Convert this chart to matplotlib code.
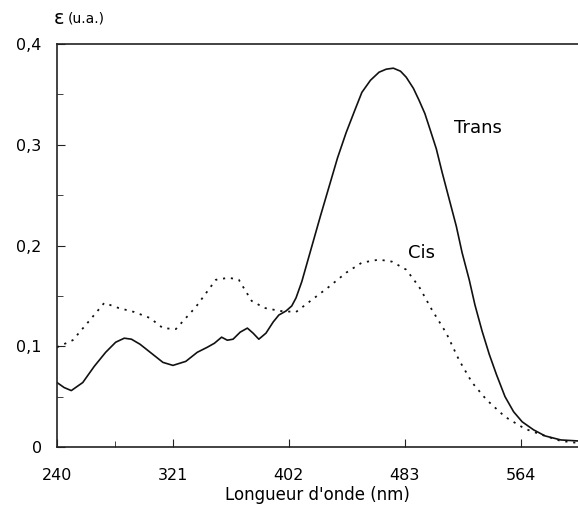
import numpy as np
import matplotlib.pyplot as plt
from matplotlib.ticker import MultipleLocator, FixedLocator

# spectra (wavelength in nm, epsilon in u.a.)
trans_nm = [240, 245, 250, 258, 266, 274, 281, 287, 292, 298, 306, 314, 321, 330,
            338, 345, 350, 355, 359, 363, 368, 373, 377, 381, 386, 391, 395, 400,
            404, 407, 411, 415, 418, 424, 430, 436, 442, 448, 453, 459, 465, 470,
            475, 480, 484, 489, 493, 497, 500, 505, 509, 514, 519, 523, 528, 532,
            537, 542, 547, 553, 559, 565, 573, 581, 592, 604]
trans_eps = [0.064, 0.059, 0.056, 0.064, 0.080, 0.094, 0.104, 0.108, 0.107, 0.102,
             0.093, 0.084, 0.081, 0.085, 0.094, 0.099, 0.103, 0.109, 0.106, 0.107,
             0.114, 0.118, 0.113, 0.107, 0.113, 0.124, 0.131, 0.135, 0.140, 0.148,
             0.164, 0.184, 0.199, 0.229, 0.258, 0.287, 0.312, 0.334, 0.352, 0.364,
             0.372, 0.375, 0.376, 0.373, 0.367, 0.356, 0.344, 0.331, 0.318, 0.296,
             0.273, 0.246, 0.219, 0.193, 0.166, 0.141, 0.115, 0.092, 0.072, 0.050,
             0.035, 0.025, 0.017, 0.011, 0.007, 0.006]

cis_nm = [240, 251, 263, 273, 283, 294, 305, 314, 323, 337, 351, 360, 367, 376,
          385, 396, 407, 418, 430, 442, 453, 465, 474, 484, 493, 502, 512, 521,
          530, 540, 553, 567, 581, 592, 604]
cis_eps = [0.099, 0.106, 0.126, 0.143, 0.138, 0.134, 0.128, 0.118, 0.117, 0.139,
           0.166, 0.168, 0.166, 0.145, 0.138, 0.135, 0.134, 0.146, 0.159, 0.173,
           0.183, 0.186, 0.184, 0.176, 0.159, 0.136, 0.113, 0.086, 0.064, 0.047,
           0.030, 0.018, 0.011, 0.006, 0.004]

x_ticks = [240, 321, 402, 483, 564]
y_ticks = [0, 0.1, 0.2, 0.3, 0.4]
y_labels = ["0", "0,1", "0,2", "0,3", "0,4"]

plt.rcParams['font.family'] = ['DejaVu Sans']

fig = plt.figure(figsize=(5.78, 5.07), dpi=100)
ax = fig.add_axes([57/578, 1 - 447/507, 1 - 57/578, (447 - 44)/507])

ax.plot(trans_nm, trans_eps, color="#111111", lw=1.2)
ax.plot(cis_nm, cis_eps, color="#111111", lw=1.3, linestyle=(0, (1.2, 3.2)))

ax.set_xlim(240, 604)
ax.set_ylim(0, 0.4)
ax.set_xticks(x_ticks)
ax.set_yticks(y_ticks)
ax.set_yticklabels(y_labels)
ax.xaxis.set_minor_locator(FixedLocator([280.5]))
ax.yaxis.set_minor_locator(MultipleLocator(0.05))
ax.tick_params(which="both", direction="in", labelsize=11.5, color="#222222")
ax.tick_params(which="major", length=6)
ax.tick_params(which="minor", length=4)
ax.tick_params(axis="x", which="major", pad=15)
ax.tick_params(axis="y", which="major", pad=11)
ax.spines["right"].set_visible(False)
for s in ["left", "bottom", "top"]:
    ax.spines[s].set_linewidth(1.2)
    ax.spines[s].set_color("#222222")

ax.text(534, 0.317, "Trans", fontsize=13, ha="center", va="center")
ax.text(495, 0.193, "Cis", fontsize=13, ha="center", va="center")

ax.set_xlabel("Longueur d'onde (nm)", fontsize=12, labelpad=2)
fig.text(54/578, 1 - 19/507, "\u03b5", fontsize=14, va="center")
fig.text(68/578, 1 - 19/507, "(u.a.)", fontsize=10, va="center")

fig.savefig("out.png", dpi=100)
